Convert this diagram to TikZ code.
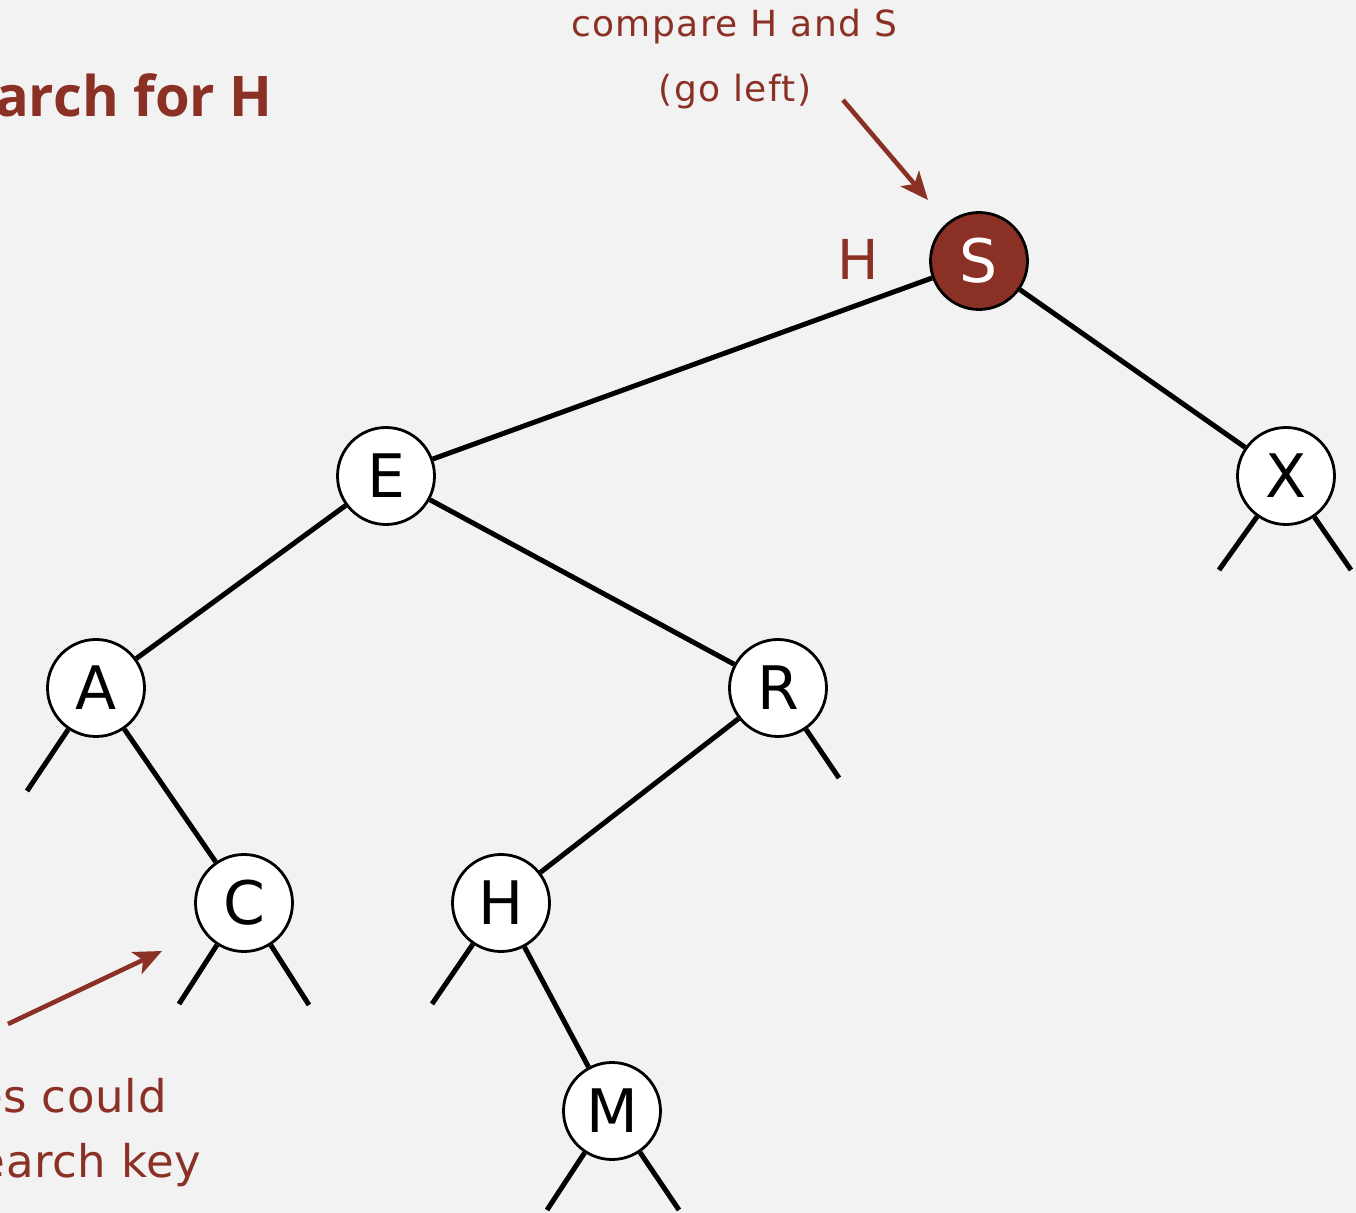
\documentclass[tikz,border=0pt]{standalone}
\usepackage{fontspec}
\setmainfont{DejaVu Sans}
\newfontfamily\lblfont[LetterSpace=4]{DejaVu Sans}
\newfontfamily\biglblfont[LetterSpace=1.5]{DejaVu Sans}
\newfontfamily\titlefont{Open Sans}
\usetikzlibrary{arrows.meta}
\definecolor{bred}{HTML}{8B3024}
\definecolor{bgc}{HTML}{F2F2F2}
\tikzset{
  bstnode/.style={circle, draw=black, line width=1.4pt, fill=white, minimum size=48.5pt, inner sep=0pt, font=\fontsize{30}{32}\selectfont},
  hitnode/.style={bstnode, fill=bred, text=white},
  link/.style={line width=2.5pt, black},
  callout/.style={line width=2.3pt, bred, -{Stealth[length=14pt, width=12pt, inset=3.5pt]}},
  lbl/.style={text=bred, inner sep=0pt, font=\lblfont\fontsize{18}{21}\selectfont},
  biglbl/.style={text=bred, inner sep=0pt, font=\biglblfont\fontsize{22.5}{26}\selectfont},
}
\begin{document}
\begin{tikzpicture}[x=0.5pt, y=-0.5pt]
\useasboundingbox (0,0) rectangle (1356,1213);
\fill[bgc] (0,0) rectangle (1356,1213);
\clip (0,0) rectangle (1356,1213);

% nodes
\node[hitnode] (S) at (979,261) {S};
\node[bstnode] (E) at (386,476) {E};
\node[bstnode] (X) at (1286,476) {X};
\node[bstnode] (A) at (96,688) {A};
\node[bstnode] (R) at (778,688) {R};
\node[bstnode] (C) at (244,903) {C};
\node[bstnode] (H) at (501,903) {H};
\node[bstnode] (M) at (612,1111) {M};

% null link ends
\coordinate (xl) at (1219,570);
\coordinate (xr) at (1351,570);
\coordinate (al) at (27,791);
\coordinate (rr) at (839,778);
\coordinate (cl) at (179,1004);
\coordinate (cr) at (309,1005);
\coordinate (hl) at (432,1004);
\coordinate (ml) at (547,1210);
\coordinate (mr) at (679,1210);

% links
\draw[link] (S) -- (E);
\draw[link] (S) -- (X);
\draw[link] (E) -- (A);
\draw[link] (E) -- (R);
\draw[link] (A) -- (C);
\draw[link] (R) -- (H);
\draw[link] (H) -- (M);
\draw[link] (X) -- (xl);
\draw[link] (X) -- (xr);
\draw[link] (A) -- (al);
\draw[link] (R) -- (rr);
\draw[link] (C) -- (cl);
\draw[link] (C) -- (cr);
\draw[link] (H) -- (hl);
\draw[link] (M) -- (ml);
\draw[link] (M) -- (mr);

% labels
\node[lbl, anchor=base] (cmp) at (734,37) {compare H and S};
\node[lbl, anchor=base] (goleft) at (735,102) {(go left)};
\node[text=bred, inner sep=0pt, anchor=base, font=\fontsize{27.5}{30}\selectfont] (key) at (858,280) {H};
\node[text=bred, inner sep=0pt, anchor=base east, font=\titlefont\bfseries\fontsize{28}{32}\selectfont] (title) at (273,117) {arch for H};
\node[biglbl, anchor=base east] (could) at (167,1112) {es could};
\node[biglbl, anchor=base east] (skey) at (202,1177) {search key};

% callout arrows
\coordinate (a1s) at (843,100);
\coordinate (a1e) at (928,200);
\draw[callout] (a1s) -- (a1e);
\coordinate (a2s) at (8,1024);
\coordinate (a2e) at (162,951);
\draw[callout] (a2s) -- (a2e);
\end{tikzpicture}
\end{document}
